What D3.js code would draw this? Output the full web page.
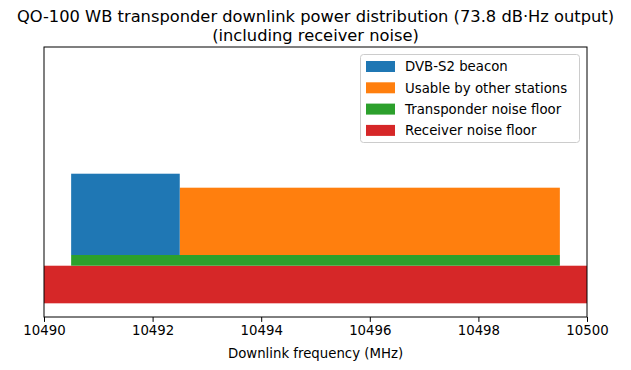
<!DOCTYPE html>
<html><head><meta charset="utf-8">
<script src="https://cdn.jsdelivr.net/npm/d3@7"></script>
<style>body{margin:0;background:#fff}svg{font-family:"DejaVu Sans",sans-serif}</style>
</head><body><svg id="c" width="631" height="370"></svg>
<script>
// Data (relative power, receiver noise floor = 1)
const series = ["DVB-S2 beacon", "Usable by other stations", "Transponder noise floor", "Receiver noise floor"];
const colors = ["#1f77b4", "#ff7f0e", "#2ca02c", "#d62728"];
// bands: [startMHz, endMHz, bottom, top]
const receiverNoise = [[10490, 10500, 0, 1]];
const transponderNoise = [[10490.5, 10499.5, 1, 1.285]];
const beacon = [[10490.5, 10492.5, 1.285, 3.447]];
const usable = [[10492.5, 10499.5, 1.285, 3.075]];
const xTicks = [10490, 10492, 10494, 10496, 10498, 10500];
const xDomain = [10490, 10500];
const yDomain = [-0.364, 6.817];
const titleLines = ["QO-100 WB transponder downlink power distribution (73.8 dB·Hz output)", "(including receiver noise)"];

const svg = d3.select("#c");
const L = 44, R = 587, T = 47, B = 317;
const x = d3.scaleLinear().domain(xDomain).range([L, R]);
const y = d3.scaleLinear().domain(yDomain).range([B, T]);

titleLines.forEach((t, i) => {
  svg.append("text").attr("text-anchor", "middle").attr("font-size", "16.3px")
    .attr("x", (L + R) / 2).attr("y", 21.5 + i * 19).text(t);
});

svg.append("clipPath").attr("id", "clip").append("rect")
  .attr("x", L).attr("y", T).attr("width", R - L).attr("height", B - T);
const g = svg.append("g").attr("clip-path", "url(#clip)");
const groups = [beacon, usable, transponderNoise, receiverNoise];
// draw order: receiver first
[3, 2, 1, 0].forEach(i => {
  g.selectAll(null).data(groups[i]).enter().append("rect")
    .attr("x", d => x(d[0])).attr("width", d => x(d[1]) - x(d[0]))
    .attr("y", d => y(d[3])).attr("height", d => y(d[2]) - y(d[3]))
    .attr("fill", colors[i]);
});

const xAxis = d3.axisBottom(x).tickValues(xTicks).tickFormat(d3.format("d")).tickSize(4.9).tickPadding(3.5);
const ax = svg.append("g").attr("transform", `translate(0,${B})`).call(xAxis);
ax.select(".domain").remove();
ax.selectAll("text").attr("font-size", "13.3px").attr("font-family", "DejaVu Sans").attr("fill", "#000");
ax.selectAll("line").attr("stroke", "#000").attr("stroke-width", 1);

svg.append("rect").attr("x", L).attr("y", T).attr("width", R - L).attr("height", B - T)
  .attr("fill", "none").attr("stroke", "#000").attr("stroke-width", 1);

svg.append("text").attr("x", (L + R) / 2).attr("y", 358).attr("text-anchor", "middle")
  .attr("font-size", "13.3px").text("Downlink frequency (MHz)");

// legend
const lg = svg.append("g");
lg.append("rect").attr("x", 360.5).attr("y", 54.5).attr("width", 219).attr("height", 88).attr("rx", 3)
  .attr("fill", "#fff").attr("fill-opacity", 0.8).attr("stroke", "#ccc");
series.forEach((s, i) => {
  const cy = 66.5 + i * 21.3;
  lg.append("rect").attr("x", 366).attr("y", cy - 5.5).attr("width", 29).attr("height", 11).attr("fill", colors[i]);
  lg.append("text").attr("x", 405).attr("y", cy + 4.8).attr("font-size", "13.3px").text(s);
});
</script></body></html>
